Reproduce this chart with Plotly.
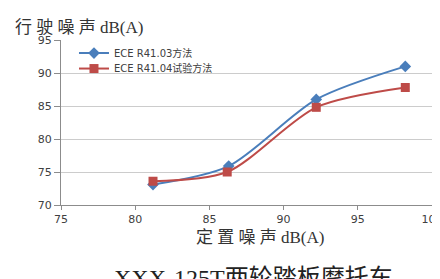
import plotly.graph_objects as go

x_blue = [81.2, 86.3, 92.2, 98.2]
y_blue = [73.1, 75.9, 86.0, 91.0]
x_red = [81.2, 86.2, 92.2, 98.2]
y_red = [73.6, 75.0, 84.8, 87.8]
name_blue = "ECE R41.03方法"
name_red = "ECE R41.04试验方法"
title_text = "XXX-125T两轮踏板摩托车"
x_title = "定\u2005置\u2005噪\u2005声\u2005dB(A)"
y_title = "行\u2005驶\u2005噪\u2005声\u2005dB(A)"

sans = "DejaVu Sans, Noto Sans CJK SC, sans-serif"
serif = "Liberation Serif, Noto Sans CJK SC, serif"
legend_font = dict(family="DejaVu Sans, Noto Sans CJK SC, sans-serif", size=10, color="#404040")

fig = go.Figure()
fig.add_trace(go.Scatter(x=x_blue, y=y_blue, name=name_blue, mode="lines+markers",
                         legend="legend",
                         line=dict(color="#4A7EBB", width=2, shape="spline", smoothing=0.8),
                         marker=dict(symbol="diamond", size=9, color="#4A7EBB")))
fig.add_trace(go.Scatter(x=x_red, y=y_red, name=name_red, mode="lines+markers",
                         legend="legend2",
                         line=dict(color="#BE4B48", width=2, shape="spline", smoothing=0.8),
                         marker=dict(symbol="square", size=9, color="#BE4B48")))

fig.update_layout(
    width=432, height=271,
    margin=dict(l=53, r=8, t=32, b=74, autoexpand=False),
    paper_bgcolor="white", plot_bgcolor="white",
    font=dict(family=sans, size=10, color="#404040"),
    showlegend=True,
    legend=dict(x=0.035, y=0.921, xanchor="left", yanchor="middle",
                bgcolor="rgba(0,0,0,0)", font=legend_font, itemwidth=30),
    legend2=dict(x=0.035, y=0.827, xanchor="left", yanchor="middle",
                 bgcolor="rgba(0,0,0,0)", font=legend_font, itemwidth=30),
    xaxis=dict(range=[75, 100], dtick=5, showgrid=False, showline=True,
               linecolor="#8c8c8c", linewidth=1, ticks="outside", ticklen=4,
               tickcolor="#8c8c8c", zeroline=False, ticklabeloverflow="allow",
               automargin=False, tickfont=dict(size=11)),
    yaxis=dict(range=[70, 95], dtick=5, showgrid=True, gridcolor="#cccccc",
               showline=True, linecolor="#8c8c8c", linewidth=1,
               ticks="outside", ticklen=6, tickcolor="#8c8c8c", zeroline=False,
               automargin=False, tickfont=dict(size=11)),
    annotations=[
        dict(text=y_title, xref="paper", yref="paper", x=-0.129, y=1.073,
             xanchor="left", yanchor="middle", showarrow=False,
             font=dict(family=serif, size=17, color="#333333")),
        dict(text=x_title, xref="paper", yref="paper", x=0.536, y=-0.194,
             xanchor="center", yanchor="middle", showarrow=False,
             font=dict(family=serif, size=17, color="#333333")),
        dict(text=title_text, xref="paper", yref="paper", x=0.519, y=-0.442,
             xanchor="center", yanchor="middle", showarrow=False,
             font=dict(family=serif, size=24, color="#222222")),
    ],
)

fig.write_html("out.html")
